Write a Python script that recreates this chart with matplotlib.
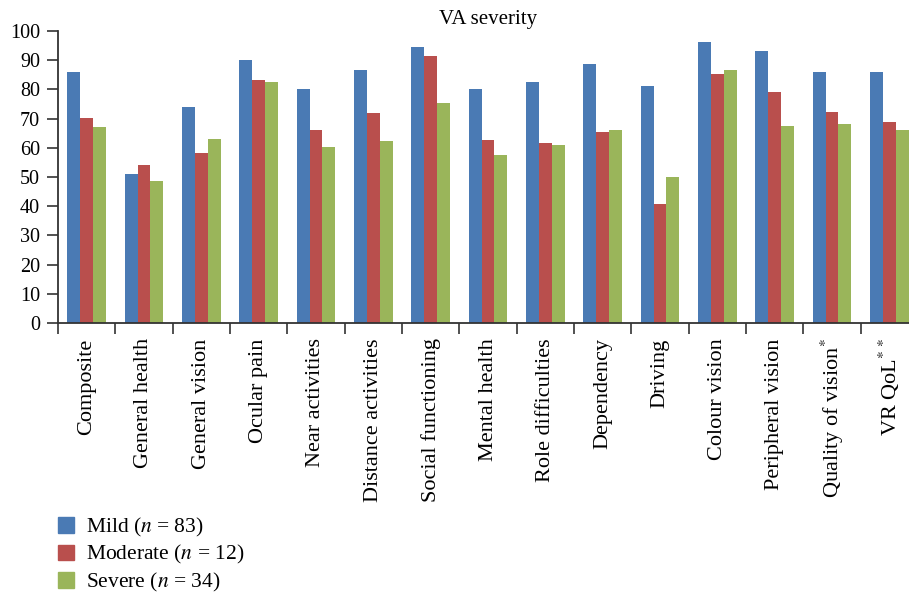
import numpy as np
from matplotlib import pyplot as plt
from matplotlib.patches import Patch

categories = ["Composite", "General health", "General vision", "Ocular pain",
              "Near activities", "Distance activities", "Social functioning",
              "Mental health", "Role difficulties", "Dependency", "Driving",
              "Colour vision", "Peripheral vision", "Quality of vision$^{*}$",
              "VR QoL$^{*\\,*}$"]
mild = [86.0, 51.0, 74.0, 90.2, 80.2, 86.7, 94.6, 80.1, 82.5, 88.7, 81.2, 96.2, 93.2, 86.0, 86.0]
moderate = [70.3, 54.1, 58.2, 83.3, 66.2, 72.0, 91.5, 62.7, 61.6, 65.4, 40.8, 85.3, 79.1, 72.3, 68.8]
severe = [67.2, 48.6, 63.1, 82.6, 60.3, 62.4, 75.4, 57.5, 61.0, 66.1, 50.0, 86.6, 67.5, 68.2, 66.1]
labels = ["Mild ($n$ = 83)", "Moderate ($n$ = 12)", "Severe ($n$ = 34)"]
colors = ["#4a7ab4", "#b94f4d", "#9ab55a"]

plt.rcParams['font.family'] = ['Liberation Serif', 'DejaVu Serif']
plt.rcParams['mathtext.fontset'] = 'stix'

fig = plt.figure(figsize=(9.09, 5.94), dpi=100)
ax = fig.add_axes([58/909, 1-323/594, 860/909, 292/594])

x = np.arange(len(categories))
w = 0.225
for i, (vals, c) in enumerate(zip([mild, moderate, severe], colors)):
    ax.bar(x + (i-1)*w, vals, width=w, color=c, label=labels[i])

ax.set_xlim(-0.5, len(categories)-0.5)
ax.set_ylim(0, 100)
ax.set_yticks(range(0, 101, 10))
ax.tick_params(axis='y', labelsize=14.5, length=8, width=1.2, color='#333333', pad=5)
ax.set_xticks(np.arange(-0.5, len(categories), 1))
ax.set_xticklabels([])
ax.tick_params(axis='x', length=8, width=1.2, color='#333333')
ax.set_xticks(x, minor=True)
ax.set_xticklabels(categories, minor=True, rotation=90, fontsize=16, va='top')
ax.tick_params(axis='x', which='minor', length=0, pad=11)
for s in ['top', 'right']:
    ax.spines[s].set_visible(False)
for s in ['left', 'bottom']:
    ax.spines[s].set_linewidth(1.3)
    ax.spines[s].set_color('#333333')

ax.set_title("VA severity", fontsize=15, pad=5)

handles = [Patch(color=c) for c in colors]
fig.legend(handles, labels, loc='upper left', bbox_to_anchor=(0.052, 0.15),
           frameon=False, fontsize=15.5, handlelength=0.75, handleheight=0.75,
           handletextpad=0.55, labelspacing=0.22, borderpad=0)

plt.savefig('out.png')
